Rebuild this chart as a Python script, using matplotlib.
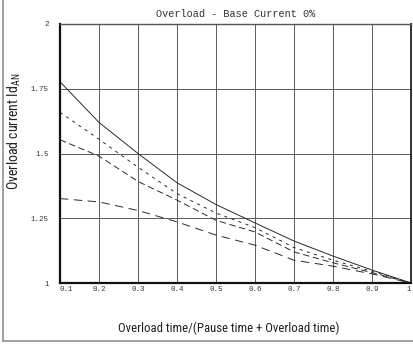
import matplotlib
matplotlib.use("Agg")
import matplotlib.pyplot as plt
from matplotlib.lines import Line2D
from matplotlib import font_manager

# Duty cycle (overload time fraction) and permissible overload current curves
duty = [0.1, 0.2, 0.3, 0.4, 0.5, 0.6, 0.7, 0.8, 0.9, 1.0]
curve_solid = [1.777, 1.620, 1.500, 1.387, 1.303, 1.232, 1.162, 1.104, 1.050, 1.0]
curve_short = [1.659, 1.555, 1.447, 1.345, 1.270, 1.214, 1.137, 1.088, 1.045, 1.0]
curve_medium = [1.553, 1.490, 1.392, 1.320, 1.242, 1.197, 1.120, 1.078, 1.040, 1.0]
curve_long = [1.326, 1.313, 1.280, 1.236, 1.185, 1.146, 1.088, 1.065, 1.035, 1.0]

x_ticks = [0.1, 0.2, 0.3, 0.4, 0.5, 0.6, 0.7, 0.8, 0.9, 1.0]
x_tick_labels = ["0.1", "0.2", "0.3", "0.4", "0.5", "0.6", "0.7", "0.8", "0.9", "1"]
y_ticks = [1.0, 1.25, 1.5, 1.75, 2.0]
y_tick_labels = ["1", "1.25", "1.5", "1.75", "2"]

title = "Overload - Base Current 0%"
x_label = "Overload time/(Pause time + Overload time)"
y_label = r"Overload current Id$_{\mathregular{AN}}$"

installed = {f.name for f in font_manager.fontManager.ttflist}
label_family = [f for f in ["Liberation Sans Narrow", "Roboto Condensed", "Liberation Sans"] if f in installed] + ["DejaVu Sans"]
mono_family = [f for f in ["Liberation Mono", "DejaVu Sans Mono"] if f in installed]

plt.rcParams["lines.scale_dashes"] = False
plt.rcParams["mathtext.default"] = "regular"

fig = plt.figure(figsize=(4.14, 3.45), dpi=100)
ax = fig.add_axes([60 / 414, 1 - 283 / 345, 351 / 414, 259 / 345])

line_color = "#2a2a2a"
ax.plot(duty, curve_solid, color=line_color, lw=0.7, ls="-")
ax.plot(duty, curve_short, color=line_color, lw=0.7, dashes=(2.2, 3.2))
ax.plot(duty, curve_medium, color=line_color, lw=0.7, dashes=(4.6, 2.6))
ax.plot(duty, curve_long, color=line_color, lw=0.7, dashes=(6.0, 4.0))

ax.set_xlim(0.1, 1.0)
ax.set_ylim(1.0, 2.0)
ax.set_xticks(x_ticks)
ax.set_yticks(y_ticks)
ax.set_xticklabels(x_tick_labels, family=mono_family, fontsize=5.4)
ax.set_yticklabels(y_tick_labels, family=mono_family, fontsize=5.4)
ax.tick_params(axis="both", length=0, colors="#333333")
ax.tick_params(axis="x", pad=2.5)
ax.tick_params(axis="y", pad=8)
xt = ax.get_xticklabels()
xt[0].set_ha("left")
xt[-1].set_ha("right")

ax.grid(True, color="#5a5a5a", lw=0.7)
ax.set_axisbelow(True)

ax.spines["left"].set_linewidth(1.6)
ax.spines["left"].set_color("#111111")
ax.spines["bottom"].set_linewidth(1.6)
ax.spines["bottom"].set_color("#111111")
ax.spines["top"].set_linewidth(1.0)
ax.spines["top"].set_color("#555555")
ax.spines["right"].set_linewidth(1.3)
ax.spines["right"].set_color("#222222")

ax.set_title(title, family=mono_family, fontsize=7.4, color="#333333", pad=5)

fig.text(229 / 414, 1 - 328 / 345, x_label, family=label_family, fontsize=9.2,
         color="#222222", ha="center", va="center")
fig.text(14 / 414, 1 - 131 / 345, y_label, family=label_family, fontsize=10,
         color="#222222", ha="center", va="center", rotation=90)

# figure frame on the left and bottom
fig.add_artist(Line2D([3 / 414, 3 / 414], [1 - 341 / 345, 1.0], transform=fig.transFigure,
                      color="#9a9a9a", lw=1.3))
fig.add_artist(Line2D([3 / 414, 1.0], [1 - 341 / 345, 1 - 341 / 345], transform=fig.transFigure,
                      color="#9a9a9a", lw=1.3))

fig.savefig("out.png", dpi=100)
